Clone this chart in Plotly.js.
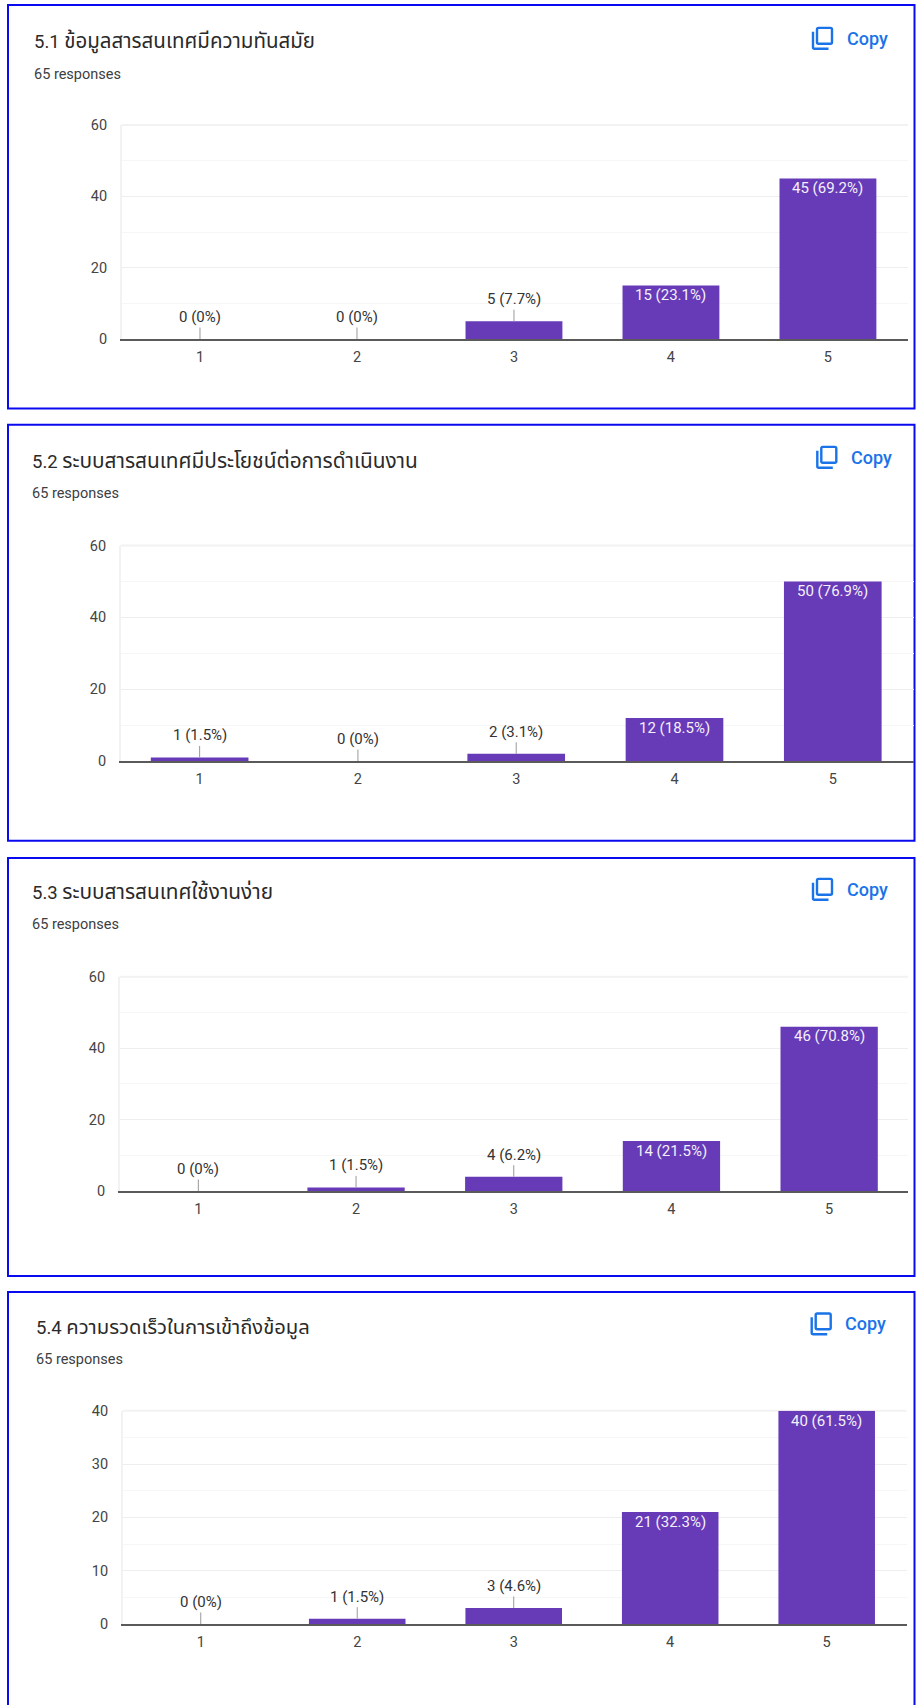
<!DOCTYPE html>
<html>
<head>
<meta charset="utf-8">
<script src="https://cdn.plot.ly/plotly-3.0.1.min.js"></script>
<style>html,body{margin:0;padding:0;background:#fff}#g{width:916px;height:1705px}</style>
</head>
<body>
<div id="g"></div>
<script>
// ---- data ----
const categories = ['1','2','3','4','5'];
const titleNumbers = ['5.1','5.2','5.3','5.4'];
const titleTexts = ['ข้อมูลสารสนเทศมีความทันสมัย','ระบบสารสนเทศมีประโยชน์ต่อการดำเนินงาน','ระบบสารสนเทศใช้งานง่าย','ความรวดเร็วในการเข้าถึงข้อมูล'];
const responses = '65 responses';
const copyLabel = 'Copy';
const counts51 = [0,0,5,15,45];
const counts52 = [1,0,2,12,50];
const counts53 = [0,1,4,14,46];
const counts54 = [0,1,3,21,40];
const pct51 = ['0%','0%','7.7%','23.1%','69.2%'];
const pct52 = ['1.5%','0%','3.1%','18.5%','76.9%'];
const pct53 = ['0%','1.5%','6.2%','21.5%','70.8%'];
const pct54 = ['0%','1.5%','4.6%','32.3%','61.5%'];
const allCounts = [counts51,counts52,counts53,counts54];
const allPct = [pct51,pct52,pct53,pct54];
const yMax = [60,60,60,40];
const yTick = [20,20,20,10];

// ---- page geometry (pixels) ----
const W=916,H=1705;
const px=x=>x/W, py=y=>1-y/H;
const geo=[
 {box:[8,5,914.5,408.5], plot:[121.5,908,125,339], xr:[-0.5,4.51], tx:32, ty:41.7, ry:74, ix:813, iy:26.7, ts:20.5},
 {box:[8,424.7,914.5,840.7], plot:[120.5,913.5,545.6,761], xr:[-0.5,4.51], tx:30, ty:461, ry:493.3, ix:817.3, iy:445.7, ts:20.8},
 {box:[8,858,914.5,1276], plot:[119.5,908,976.8,1191], xr:[-0.5,4.5], tx:30, ty:892.3, ry:925, ix:813, iy:877.7, ts:20.8},
 {box:[8,1292,914.5,1720], plot:[122.5,906.5,1410.8,1624], xr:[-0.5,4.51], tx:33.6, ty:1327.3, ry:1359.7, ix:811.7, iy:1312.3, ts:20.2}
];
const FONT='Roboto, "Noto Sans", "Noto Sans Thai", sans-serif';
const PURPLE='#673ab7', BLUE='#1a73e8';

const data=[],shapes=[],annotations=[];
const layout={width:W,height:H,margin:{l:0,r:0,t:0,b:0},paper_bgcolor:'#fff',plot_bgcolor:'#fff',
  showlegend:false,bargap:0.383,font:{family:FONT,color:'#444'},shapes,annotations};

geo.forEach((g,i)=>{
  const n=i===0?'':String(i+1);
  const counts=allCounts[i], pct=allPct[i];
  const labels=counts.map((c,k)=>`${c} (${pct[k]})`);
  data.push({type:'bar',x:categories,y:counts,xaxis:'x'+n,yaxis:'y'+n,
    marker:{color:PURPLE,line:{width:0}},hoverinfo:'skip'});
  layout['xaxis'+n]={domain:[px(g.plot[0]),px(g.plot[1])],anchor:'y'+n,type:'category',range:g.xr,
    tickmode:'array',tickvals:categories,ticktext:categories,
    showgrid:false,zeroline:false,showline:true,linecolor:'#5a5a5a',linewidth:1.5,
    ticks:'outside',ticklen:4,tickcolor:'rgba(0,0,0,0)',tickfont:{family:FONT,size:14.5,color:'#444'},fixedrange:true};
  layout['yaxis'+n]={domain:[py(g.plot[3]),py(g.plot[2])],anchor:'x'+n,range:[0,yMax[i]],dtick:yTick[i],
    showgrid:true,gridcolor:'#eeeeee',gridwidth:1,zeroline:false,showline:true,linecolor:'#f2f2f2',linewidth:1.5,
    minor:{dtick:yTick[i]/2,showgrid:true,gridcolor:'#f6f6f6',gridwidth:1,ticks:''},
    ticks:'outside',ticklen:10,tickcolor:'rgba(0,0,0,0)',tickfont:{family:FONT,size:14.5,color:'#444'},fixedrange:true};
  // top edge of the plot area
  shapes.push({type:'line',xref:'x'+n+' domain',yref:'y'+n+' domain',x0:0,x1:1,y0:1,y1:1,layer:'below',
    line:{color:'#f2f2f2',width:2}});
  // panel frame (the last one runs off the page)
  const b=g.box;
  shapes.push({type:'rect',xref:'paper',yref:'paper',x0:px(b[0]),x1:px(b[2]),y0:py(b[3]),y1:py(b[1]),
    line:{color:'#0a0af0',width:2},layer:'below'});
  // copy icon
  const P=(x,y)=>`${px(g.ix+x)},${py(g.iy+y)}`;
  shapes.push({type:'path',xref:'paper',yref:'paper',line:{color:BLUE,width:2.4},
    path:`M${P(5.5,1.2)} L${P(17.5,1.2)} Q${P(19,1.2)} ${P(19,2.7)} L${P(19,15.5)} Q${P(19,17)} ${P(17.5,17)} L${P(5.5,17)} Q${P(4,17)} ${P(4,15.5)} L${P(4,2.7)} Q${P(4,1.2)} ${P(5.5,1.2)} Z`});
  shapes.push({type:'path',xref:'paper',yref:'paper',line:{color:BLUE,width:2.4},
    path:`M${P(0,5)} L${P(0,20.5)} Q${P(0,22)} ${P(1.5,22)} L${P(15.5,22)}`});
  // text
  annotations.push({xref:'paper',yref:'paper',x:px(g.tx),y:py(g.ty),xanchor:'left',yanchor:'middle',showarrow:false,
    text:`${titleNumbers[i]} <span style="font-size:${g.ts}px">${titleTexts[i]}</span>`,font:{family:FONT,size:18.5,color:'#2a2a2a'}});
  annotations.push({xref:'paper',yref:'paper',x:px(g.tx),y:py(g.ry),xanchor:'left',yanchor:'middle',showarrow:false,
    text:responses,font:{family:FONT,size:14.5,color:'#3c4043'}});
  annotations.push({xref:'paper',yref:'paper',x:px(g.ix+31.5),y:py(g.iy+11.5),xanchor:'left',yanchor:'middle',showarrow:false,
    text:copyLabel,font:{family:FONT,size:18,color:BLUE,weight:500}});
  // value labels: inside the tall bars, on a leader line above the short ones
  counts.forEach((c,k)=>{
    if(c<12) annotations.push({xref:'x'+n,yref:'y'+n,x:k,y:c,
      text:labels[k],showarrow:true,arrowhead:0,arrowwidth:1,arrowcolor:'#999',ax:0,ay:-22,standoff:0,
      font:{family:FONT,size:15,color:'#333'}});
    else annotations.push({xref:'x'+n,yref:'y'+n,x:k,y:c,yanchor:'middle',yshift:-9.7,showarrow:false,
      text:labels[k],font:{family:FONT,size:15,color:'#f4f0fa'}});
  });
});
Plotly.newPlot('g',data,layout,{displayModeBar:false,staticPlot:true});
</script>
</body>
</html>
